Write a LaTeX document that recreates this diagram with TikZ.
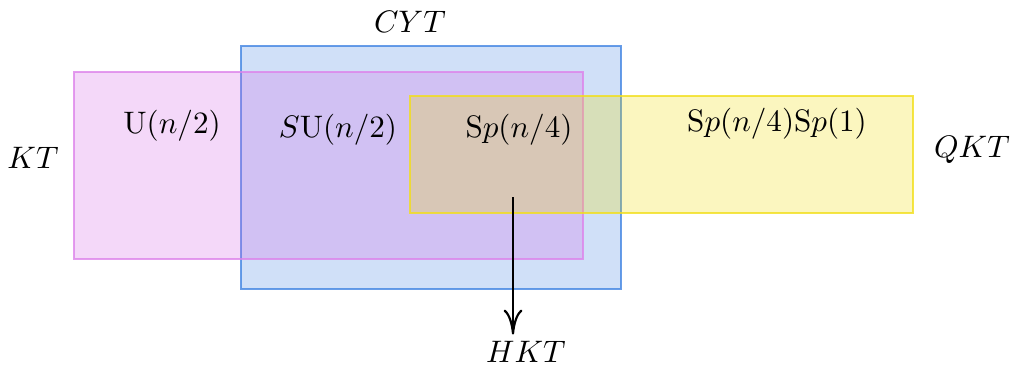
\documentclass[tikz,border=0pt]{standalone}
\usetikzlibrary{arrows.meta}
\definecolor{cytblue}{RGB}{66,133,226}
\definecolor{ktpink}{RGB}{213,100,230}
\definecolor{qktyellow}{RGB}{240,220,0}
\tikzset{%
  region/.style={line width=0.6pt, fill opacity=0.25, draw opacity=0.8},
  classlabel/.style={inner sep=2pt}
}

\begin{document}
\begin{tikzpicture}[x=1.13cm, y=-1.13cm]
      \useasboundingbox (0,0) rectangle (10.13,3.67);
      % the three classes
      \draw[region, draw=cytblue, fill=cytblue] (2.41,0.46) rectangle (6.21,2.89);
      \draw[region, draw=ktpink!80, fill=ktpink] (0.74,0.72) rectangle (5.83,2.59);
      \draw[region, draw=qktyellow!90, fill=qktyellow] (4.10,0.96) rectangle (9.13,2.13);
      \node[classlabel] (cyt) at (4.10,0.22) {$CYT$};
      \node[classlabel] (kt) at (0.33,1.58) {$KT$};
      \node[classlabel] (qkt) at (9.72,1.50) {$QKT$};
      \node[classlabel] (hkt) at (5.26,3.52) {$HKT$};
      \foreach \pos/\grp/\i in {{(1.72,1.26)}/{$\mathrm{U}(n/2)$}/u,
          {(3.38,1.30)}/{$S\mathrm{U}(n/2)$}/su,
          {(5.19,1.30)}/{$\mathrm{S}p(n/4)$}/sp,
          {(7.77,1.24)}/{$\mathrm{S}p(n/4)\mathrm{S}p(1)$}/spsp} {%
        \node[classlabel] (\i) at \pos {\grp};
      }
      \coordinate (hk) at (5.13,1.97);
      \draw[line width=0.7pt, -{To[length=8pt,width=6pt]}] (hk) -- (hk |- hkt.north);
    \end{tikzpicture}
\end{document}
